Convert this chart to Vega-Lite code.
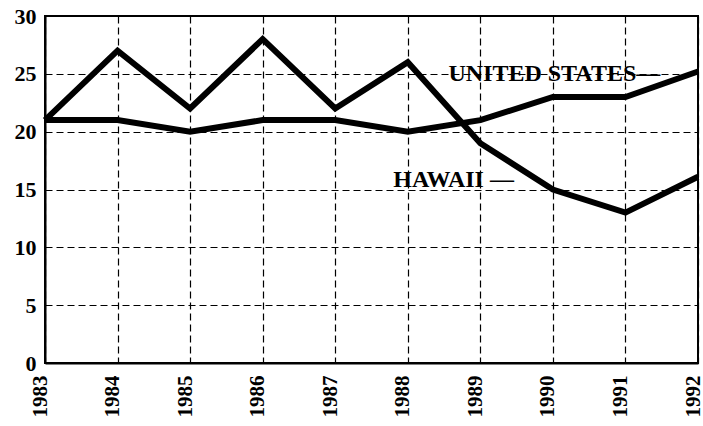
{
  "$schema": "https://vega.github.io/schema/vega-lite/v6.json",
  "width": 653,
  "height": 347,
  "autosize": {"type": "none"},
  "padding": {"left": 45, "top": 16, "right": 5, "bottom": 63},
  "background": "white",
  "config": {
    "view": {"stroke": "black", "strokeWidth": 2},
    "font": "Times New Roman, Liberation Serif, serif",
    "axis": {
      "labelFont": "Times New Roman, Liberation Serif, serif",
      "labelFontWeight": "bold",
      "labelFontSize": 22,
      "labelColor": "black",
      "gridColor": "black",
      "gridDash": [7, 4],
      "gridWidth": 1.2,
      "gridOpacity": 1,
      "domainColor": "black",
      "domainWidth": 2,
      "ticks": false,
      "title": null
    }
  },
  "datasets": {
    "series": [
      {"year": 1983, "value": 21, "region": "Hawaii"},
      {"year": 1984, "value": 27, "region": "Hawaii"},
      {"year": 1985, "value": 22, "region": "Hawaii"},
      {"year": 1986, "value": 28, "region": "Hawaii"},
      {"year": 1987, "value": 22, "region": "Hawaii"},
      {"year": 1988, "value": 26, "region": "Hawaii"},
      {"year": 1989, "value": 19, "region": "Hawaii"},
      {"year": 1990, "value": 15, "region": "Hawaii"},
      {"year": 1991, "value": 13, "region": "Hawaii"},
      {"year": 1992, "value": 16.1, "region": "Hawaii"},
      {"year": 1983, "value": 21, "region": "United States"},
      {"year": 1984, "value": 21, "region": "United States"},
      {"year": 1985, "value": 20, "region": "United States"},
      {"year": 1986, "value": 21, "region": "United States"},
      {"year": 1987, "value": 21, "region": "United States"},
      {"year": 1988, "value": 20, "region": "United States"},
      {"year": 1989, "value": 21, "region": "United States"},
      {"year": 1990, "value": 23, "region": "United States"},
      {"year": 1991, "value": 23, "region": "United States"},
      {"year": 1992, "value": 25.2, "region": "United States"}
    ],
    "labels": [
      {"year": 1988.56, "value": 25, "label": "UNITED STATES—"},
      {"year": 1987.8, "value": 15.8, "label": "HAWAII —"}
    ]
  },
  "layer": [
    {
      "data": {"name": "series"},
      "mark": {"type": "line", "color": "black", "strokeWidth": 6, "strokeJoin": "miter"},
      "encoding": {
        "x": {
          "field": "year",
          "type": "quantitative",
          "scale": {"domain": [1983, 1992], "nice": false, "zero": false},
          "axis": {
            "values": [1983, 1984, 1985, 1986, 1987, 1988, 1989, 1990, 1991, 1992],
            "format": "d",
            "labelAngle": -90,
            "labelAlign": "right",
            "labelBaseline": "middle",
            "labelPadding": 12,
            "labelOffset": -5,
            "labelFontSize": 21,
            "labelFlush": false,
            "grid": true
          }
        },
        "y": {
          "field": "value",
          "type": "quantitative",
          "scale": {"domain": [0, 30], "nice": false},
          "axis": {
            "values": [0, 5, 10, 15, 20, 25, 30],
            "labelPadding": 9,
            "labelFlush": false,
            "grid": true
          }
        },
        "detail": {"field": "region"}
      }
    },
    {
      "data": {"name": "labels"},
      "mark": {"type": "text", "align": "left", "baseline": "middle", "font": "Times New Roman, Liberation Serif, serif", "fontWeight": "bold", "fontSize": 24, "color": "black"},
      "encoding": {
        "x": {"field": "year", "type": "quantitative"},
        "y": {"field": "value", "type": "quantitative"},
        "text": {"field": "label"}
      }
    }
  ]
}
